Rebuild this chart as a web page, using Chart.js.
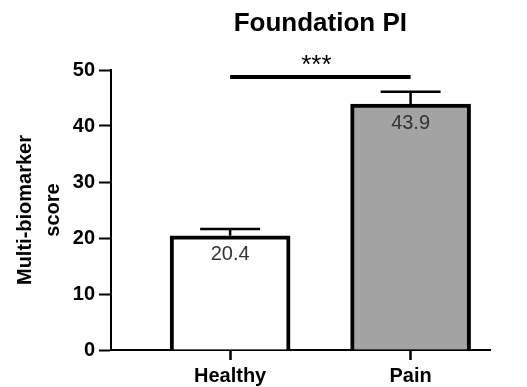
<!DOCTYPE html>
<html>
<head>
<meta charset="utf-8">
<script src="https://cdn.jsdelivr.net/npm/chart.js@4"></script>
<style>
  body { margin: 0; background: #fff; }
  canvas { display: block; }
</style>
</head>
<body>
<canvas id="scoreChart" width="527" height="387"></canvas>
<script>
// data
const groups = ['Healthy', 'Pain'];
const means = [20.4, 43.9];
const sem = [1.2, 2.2];
const yTicks = [0, 10, 20, 30, 40, 50];
const sigLevel = 48.75;
const sigText = '***';
const chartTitle = 'Foundation PI';

Chart.defaults.font.family = '"Liberation Sans", Arial, sans-serif';
Chart.defaults.color = '#000';

// error bars, value labels, significance line and title
const extras = {
    id: 'extras',
    afterDatasetsDraw(chart) {
        const ctx = chart.ctx;
        const x = chart.scales.x;
        const y = chart.scales.y;
        const bars = chart.getDatasetMeta(0).data;

        ctx.save();
        ctx.strokeStyle = '#000';
        ctx.lineWidth = 2.5;
        bars.forEach((bar, i) => {
            const top = y.getPixelForValue(means[i]);
            const up = y.getPixelForValue(means[i] + sem[i]);
            ctx.beginPath();
            ctx.moveTo(bar.x, top);
            ctx.lineTo(bar.x, up);
            ctx.moveTo(bar.x - 30, up);
            ctx.lineTo(bar.x + 30, up);
            ctx.stroke();
        });

        ctx.fillStyle = '#333';
        ctx.font = '20px "Liberation Sans", Arial, sans-serif';
        ctx.textAlign = 'center';
        ctx.textBaseline = 'middle';
        bars.forEach((bar, i) => {
            ctx.fillText(means[i].toFixed(1), bar.x, y.getPixelForValue(means[i]) + 19);
        });

        const sy = y.getPixelForValue(sigLevel);
        const x0 = x.getPixelForValue(0);
        const x1 = x.getPixelForValue(1);
        ctx.lineWidth = 4;
        ctx.beginPath();
        ctx.moveTo(x0, sy);
        ctx.lineTo(x1, sy);
        ctx.stroke();
        ctx.fillStyle = '#000';
        ctx.font = '26px "Liberation Sans", Arial, sans-serif';
        ctx.textBaseline = 'alphabetic';
        ctx.fillText(sigText, (x0 + x1) / 2 - 4, sy - 4);

        ctx.font = 'bold 26px "Liberation Sans", Arial, sans-serif';
        ctx.textBaseline = 'middle';
        ctx.fillText(chartTitle, (x0 + x1) / 2, 24);
        ctx.restore();
    }
};

new Chart(document.getElementById('scoreChart'), {
    type: 'bar',
    data: {
        datasets: [{
            data: means.map((v, i) => ({ x: i, y: v })),
            backgroundColor: ['#ffffff', '#a3a3a3'],
            borderColor: '#000',
            borderWidth: 4,
            barThickness: 120
        }]
    },
    options: {
        responsive: false,
        animation: false,
        layout: {
            padding: { top: 70, right: 37, bottom: 0, left: 0 }
        },
        plugins: {
            legend: { display: false },
            tooltip: { enabled: false }
        },
        scales: {
            x: {
                type: 'linear',
                offset: false,
                min: -0.66,
                max: 1.44,
                afterBuildTicks: (scale) => {
                    scale.ticks = groups.map((g, i) => ({ value: i }));
                },
                afterFit: (scale) => { scale.height = 37; },
                ticks: {
                    callback: (v) => groups[v],
                    font: { size: 20, weight: 'bold' },
                    color: '#000',
                    padding: 4,
                    maxRotation: 0
                },
                grid: {
                    offset: false,
                    drawOnChartArea: false,
                    tickColor: '#000',
                    tickWidth: 2.5,
                    tickLength: 10
                },
                border: { color: '#000', width: 2 }
            },
            y: {
                min: 0,
                max: 50,
                afterBuildTicks: (scale) => {
                    scale.ticks = yTicks.map(v => ({ value: v }));
                },
                afterFit: (scale) => { scale.width = 111; },
                ticks: {
                    font: { size: 20, weight: 'bold' },
                    color: '#000',
                    padding: 4
                },
                grid: {
                    drawOnChartArea: false,
                    tickColor: '#000',
                    tickWidth: 2,
                    tickLength: 12
                },
                border: { color: '#000', width: 2 },
                title: {
                    display: true,
                    text: ['Multi-biomarker', 'score'],
                    font: { size: 20, weight: 'bold', lineHeight: 1.4 },
                    color: '#000',
                    padding: { top: 11, bottom: 0 }
                }
            }
        }
    },
    plugins: [extras]
});
</script>
</body>
</html>
